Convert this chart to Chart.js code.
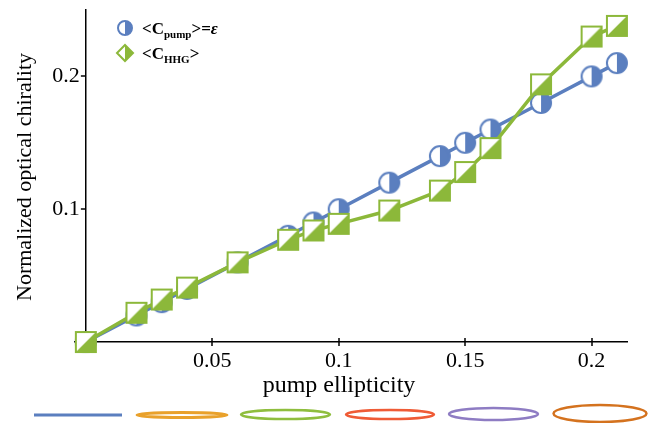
<!DOCTYPE html>
<html>
<head>
<meta charset="utf-8">
<script src="https://cdn.jsdelivr.net/npm/chart.js@4.4.1/dist/chart.umd.min.js"></script>
<style>
  html, body { margin: 0; padding: 0; background: #fff; }
  #wrap { width: 654px; height: 423px; }
</style>
</head>
<body>
<div id="wrap"><canvas id="chiralityChart" width="654" height="423"></canvas></div>
<script>
// values
const ellipticity = [0, 0.02, 0.03, 0.04, 0.06, 0.08, 0.09, 0.1, 0.12, 0.14, 0.15, 0.16, 0.18, 0.2, 0.21];
const cPump = [0, 0.02, 0.03, 0.04, 0.06, 0.08, 0.09, 0.1, 0.12, 0.14, 0.15, 0.16, 0.18, 0.2, 0.21];
const cHHG = [0, 0.022, 0.032, 0.041, 0.06, 0.077, 0.084, 0.089, 0.099, 0.114, 0.128, 0.146, 0.194, 0.23, 0.238];
const xTicks = [0.05, 0.1, 0.15, 0.2];
const yTicks = [0.1, 0.2];

const BLUE = '#5b7fbf';
const GREEN = '#8cb83a';
const SERIF = '"Liberation Serif", "Times New Roman", serif';

function makeCircleMarker(r, color) {
  const size = Math.ceil(r * 2 + 4);
  const c = document.createElement('canvas');
  c.width = c.height = size;
  const g = c.getContext('2d');
  const m = size / 2;
  g.beginPath(); g.arc(m, m, r, 0, Math.PI * 2); g.fillStyle = '#fff'; g.fill();
  g.beginPath(); g.arc(m, m, r, -Math.PI / 2, Math.PI / 2); g.closePath();
  g.fillStyle = color; g.fill();
  g.beginPath(); g.arc(m, m, r, 0, Math.PI * 2);
  g.lineWidth = 2; g.strokeStyle = color; g.stroke();
  return c;
}

function makeSquareMarker(s, color) {
  const size = s + 4;
  const c = document.createElement('canvas');
  c.width = c.height = size;
  const g = c.getContext('2d');
  const a = 2, b = 2 + s;
  g.fillStyle = '#fff'; g.fillRect(a, a, s, s);
  g.beginPath(); g.moveTo(a, b); g.lineTo(b, b); g.lineTo(b, a); g.closePath();
  g.fillStyle = color; g.fill();
  g.lineWidth = 2; g.strokeStyle = color; g.strokeRect(a, a, s, s);
  return c;
}

function toPoints(xs, ys) {
  return xs.map((x, i) => ({ x: x, y: ys[i] }));
}

function line(ctx, x1, y1, x2, y2) {
  ctx.beginPath(); ctx.moveTo(x1, y1); ctx.lineTo(x2, y2); ctx.stroke();
}

// tick marks, tick labels, axis titles, legend and the coloured strip at the bottom
const decorPlugin = {
  id: 'decor',
  afterDraw(chart) {
    const { ctx, scales: { x, y } } = chart;
    const x0 = x.getPixelForValue(0);
    const y0 = y.getPixelForValue(0);
    ctx.save();
    ctx.strokeStyle = '#000';
    ctx.lineWidth = 1.5;
    xTicks.forEach(v => { const px = Math.round(x.getPixelForValue(v)); line(ctx, px, y0 - 4, px, y0 + 4); });
    yTicks.forEach(v => { const py = Math.round(y.getPixelForValue(v)); line(ctx, x0 - 5, py, x0, py); });

    ctx.fillStyle = '#000';
    ctx.font = '22px ' + SERIF;
    ctx.textAlign = 'center';
    ctx.textBaseline = 'top';
    xTicks.forEach(v => ctx.fillText(String(v), x.getPixelForValue(v), y0 + 8));
    ctx.textAlign = 'right';
    ctx.textBaseline = 'middle';
    yTicks.forEach(v => ctx.fillText(String(v), x0 - 6, y.getPixelForValue(v)));

    // axis titles
    ctx.font = '24px ' + SERIF;
    ctx.textAlign = 'center';
    ctx.textBaseline = 'alphabetic';
    ctx.fillText('pump ellipticity', 339, 392);
    ctx.save();
    ctx.translate(31, 177);
    ctx.rotate(-Math.PI / 2);
    ctx.font = '22px ' + SERIF;
    ctx.fillText('Normalized optical chirality', 0, 0);
    ctx.restore();

    // legend
    const lx = 125;
    ctx.lineWidth = 2;
    ctx.beginPath(); ctx.arc(lx, 28, 7, 0, Math.PI * 2); ctx.fillStyle = '#fff'; ctx.fill();
    ctx.beginPath(); ctx.arc(lx, 28, 7, -Math.PI / 2, Math.PI / 2); ctx.closePath();
    ctx.fillStyle = BLUE; ctx.fill();
    ctx.beginPath(); ctx.arc(lx, 28, 7, 0, Math.PI * 2); ctx.strokeStyle = BLUE; ctx.stroke();

    const d = 8;
    ctx.beginPath(); ctx.moveTo(lx, 53 - d); ctx.lineTo(lx + d, 53); ctx.lineTo(lx, 53 + d); ctx.lineTo(lx - d, 53); ctx.closePath();
    ctx.fillStyle = '#fff'; ctx.fill();
    ctx.beginPath(); ctx.moveTo(lx, 53 - d); ctx.lineTo(lx + d, 53); ctx.lineTo(lx, 53 + d); ctx.closePath();
    ctx.fillStyle = GREEN; ctx.fill();
    ctx.beginPath(); ctx.moveTo(lx, 53 - d); ctx.lineTo(lx + d, 53); ctx.lineTo(lx, 53 + d); ctx.lineTo(lx - d, 53); ctx.closePath();
    ctx.strokeStyle = GREEN; ctx.stroke();

    ctx.fillStyle = '#000';
    ctx.textAlign = 'left';
    const legendText = (parts, tx, ty) => {
      parts.forEach(p => {
        ctx.font = p.font;
        ctx.fillText(p.t, tx, ty + (p.dy || 0));
        tx += ctx.measureText(p.t).width;
      });
    };
    const big = 'bold 17px ' + SERIF, small = 'bold 11px ' + SERIF;
    legendText([{ t: '<C', font: big }, { t: 'pump', font: small, dy: 4 }, { t: '>=', font: big },
      { t: 'ε', font: 'bold italic 17px ' + SERIF }], 142, 34);
    legendText([{ t: '<C', font: big }, { t: 'HHG', font: small, dy: 4 }, { t: '>', font: big }], 142, 59);

    // coloured strip under the axis title
    ctx.lineWidth = 3;
    ctx.strokeStyle = BLUE;
    line(ctx, 34, 415, 122, 415);
    const rings = [
      { cx: 182, cy: 415, rx: 45, ry: 2.5, c: '#e9a12b', w: 3 },
      { cx: 285.5, cy: 414.5, rx: 44.5, ry: 4.5, c: '#8fbe3e', w: 2.5 },
      { cx: 390, cy: 414.5, rx: 44, ry: 4.5, c: '#ef5b36', w: 2.5 },
      { cx: 493.5, cy: 414, rx: 44.5, ry: 6, c: '#8e7cc3', w: 2.5 },
      { cx: 600, cy: 413.5, rx: 46.5, ry: 8.5, c: '#d4721e', w: 2.5 }
    ];
    rings.forEach(r => {
      ctx.lineWidth = r.w;
      ctx.beginPath(); ctx.ellipse(r.cx, r.cy, r.rx, r.ry, 0, 0, Math.PI * 2);
      ctx.strokeStyle = r.c; ctx.stroke();
    });
    ctx.restore();
  }
};

const ctx = document.getElementById('chiralityChart').getContext('2d');
new Chart(ctx, {
  type: 'line',
  data: {
    datasets: [
      {
        label: '<C_HHG>',
        data: toPoints(ellipticity, cHHG),
        borderColor: GREEN,
        borderWidth: 3.5,
        pointStyle: makeSquareMarker(20, GREEN),
        tension: 0,
        clip: false
      },
      {
        label: '<C_pump>=ε',
        data: toPoints(ellipticity, cPump),
        borderColor: BLUE,
        borderWidth: 3.5,
        pointStyle: makeCircleMarker(10, BLUE),
        tension: 0,
        clip: false
      }
    ]
  },
  options: {
    responsive: false,
    devicePixelRatio: 1,
    animation: false,
    layout: { padding: { left: 75, right: 27, top: 10, bottom: 75 } },
    plugins: { legend: { display: false }, tooltip: { enabled: false } },
    scales: {
      x: {
        type: 'linear',
        position: { y: 0 },
        min: -0.0043,
        max: 0.214,
        grid: { display: false, drawTicks: false },
        border: { display: true, color: '#000', width: 1.5 },
        ticks: { display: false }
      },
      y: {
        type: 'linear',
        position: { x: 0 },
        min: -0.0045,
        max: 0.25,
        grid: { display: false, drawTicks: false },
        border: { display: true, color: '#000', width: 1.5 },
        ticks: { display: false }
      }
    }
  },
  plugins: [decorPlugin]
});
</script>
</body>
</html>
